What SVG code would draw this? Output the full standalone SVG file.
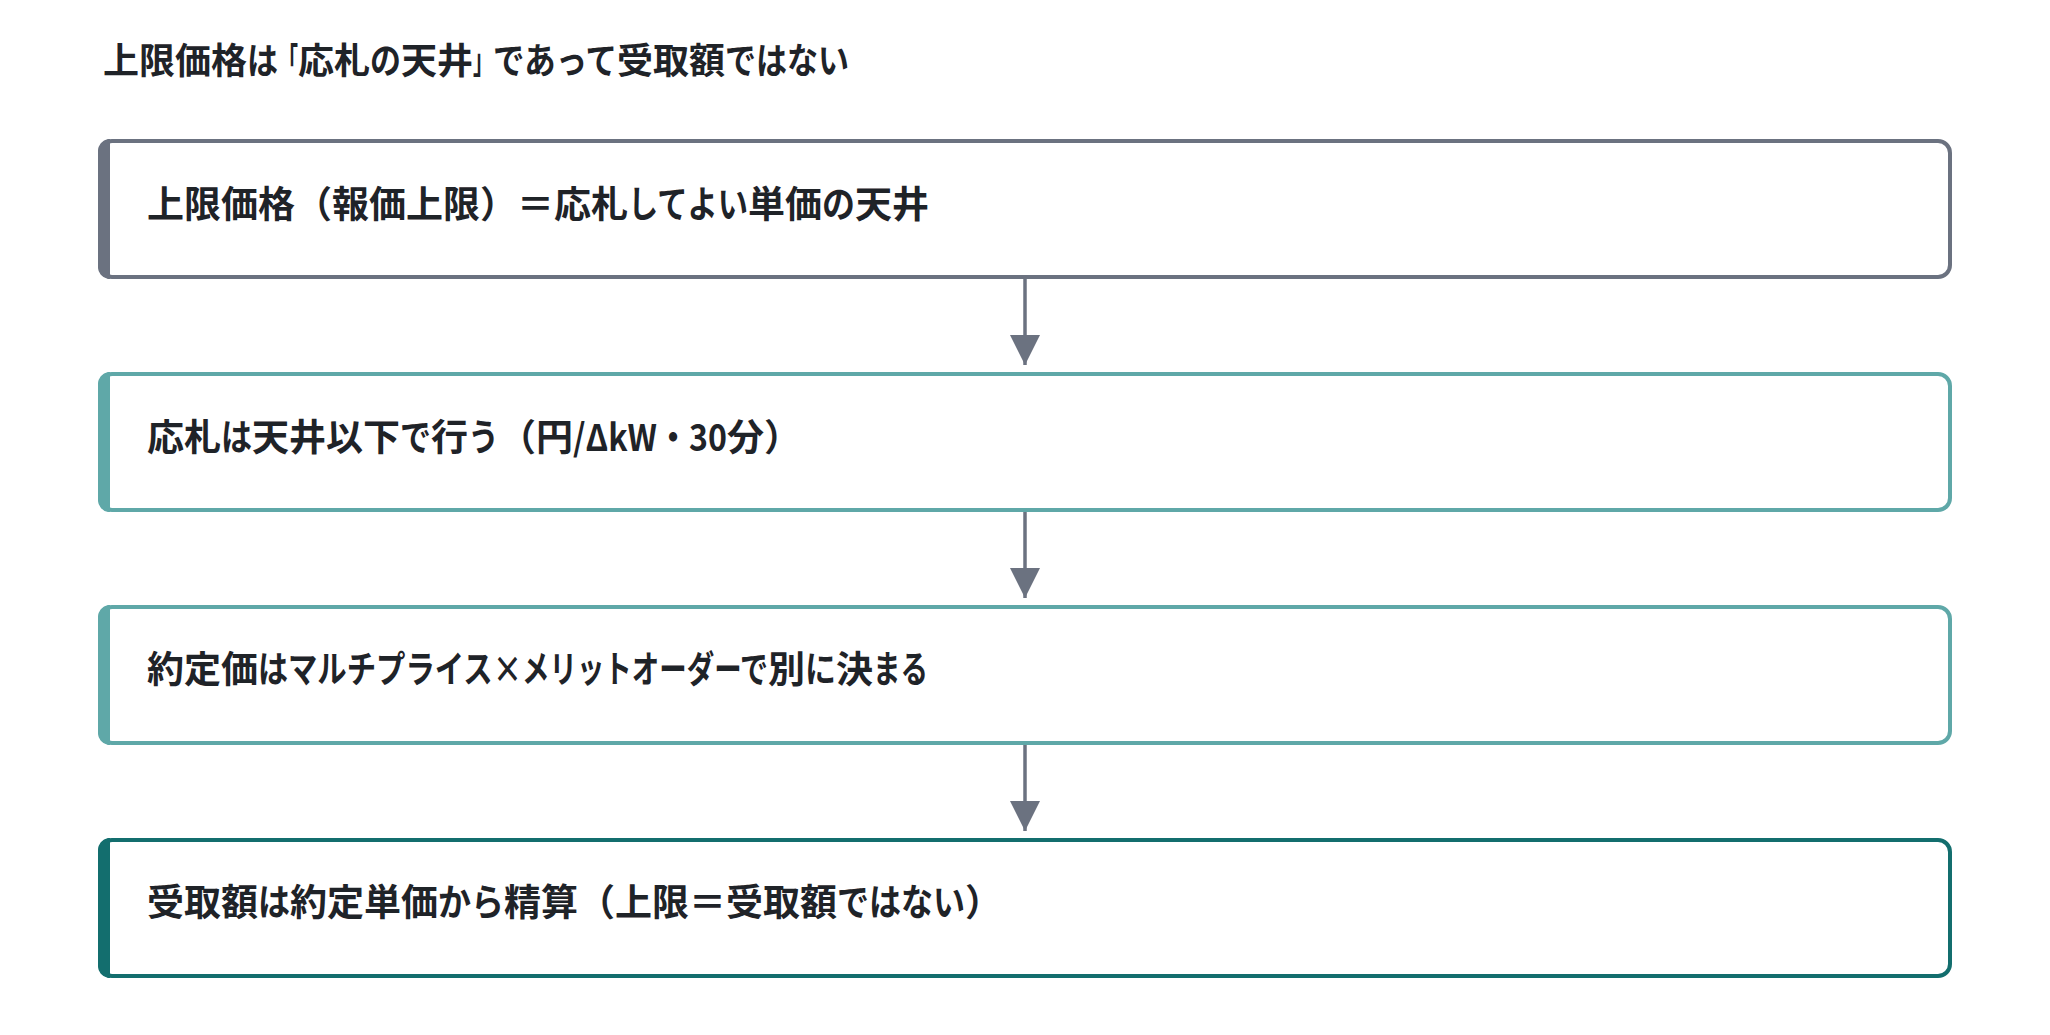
<svg xmlns="http://www.w3.org/2000/svg" width="2050" height="1035" viewBox="0 0 2050 1035">
<defs>
<style>
text{font-family:"Noto Sans CJK JP","Noto Sans",sans-serif;font-weight:700;fill:#1f2328}
.title{font-size:36px}
.lbl{font-size:37px}
.box{fill:#fff;stroke-width:4}
.conn{stroke:#6b7280;stroke-width:3.5;fill:none}
</style>
<marker id="ah" viewBox="0 0 30 30" refX="30" refY="15" markerWidth="30" markerHeight="30" markerUnits="userSpaceOnUse" orient="auto">
<path d="M0,0 L30,15 L0,30 Z" fill="#6b7280"/>
</marker>
</defs>
<rect width="2050" height="1035" fill="#fff"/>
<text class="title" x="103" y="74">上限価格<tspan textLength="31" lengthAdjust="spacingAndGlyphs">は</tspan><tspan textLength="20" lengthAdjust="spacingAndGlyphs">「</tspan>応札<tspan textLength="31" lengthAdjust="spacingAndGlyphs">の</tspan>天井<tspan textLength="20" lengthAdjust="spacingAndGlyphs">」</tspan><tspan textLength="124" lengthAdjust="spacingAndGlyphs">であって</tspan>受取額<tspan textLength="124" lengthAdjust="spacingAndGlyphs">ではない</tspan></text>
<g id="connectors">
<line class="conn" x1="1025" y1="278" x2="1025" y2="365" marker-end="url(#ah)"/>
<line class="conn" x1="1025" y1="511" x2="1025" y2="598" marker-end="url(#ah)"/>
<line class="conn" x1="1025" y1="744" x2="1025" y2="831" marker-end="url(#ah)"/>
</g>
<g id="node1">
<rect class="box" x="100" y="141" width="1850" height="136" rx="12" stroke="#6b7280"/>
<path d="M110,139 H108 A12,12 0 0 0 98,151 V267 A12,12 0 0 0 108,279 H110 Z" fill="#6b7280"/>
<text class="lbl" x="147" y="218">上限価格（報価上限）＝応札<tspan textLength="120" lengthAdjust="spacingAndGlyphs">してよい</tspan>単価<tspan textLength="33" lengthAdjust="spacingAndGlyphs">の</tspan>天井</text>
</g>
<g id="node2">
<rect class="box" x="100" y="374" width="1850" height="136" rx="12" stroke="#5fa8a8"/>
<path d="M110,372 H108 A12,12 0 0 0 98,384 V500 A12,12 0 0 0 108,512 H110 Z" fill="#5fa8a8"/>
<text class="lbl" x="147" y="451">応札<tspan textLength="31" lengthAdjust="spacingAndGlyphs">は</tspan>天井以下<tspan textLength="31" lengthAdjust="spacingAndGlyphs">で</tspan>行<tspan textLength="31" lengthAdjust="spacingAndGlyphs">う</tspan>（円<tspan textLength="154" lengthAdjust="spacingAndGlyphs">/ΔkW・30</tspan>分）</text>
</g>
<g id="node3">
<rect class="box" x="100" y="607" width="1850" height="136" rx="12" stroke="#5fa8a8"/>
<path d="M110,605 H108 A12,12 0 0 0 98,617 V733 A12,12 0 0 0 108,745 H110 Z" fill="#5fa8a8"/>
<text class="lbl" x="147" y="683">約定価<tspan textLength="30" lengthAdjust="spacingAndGlyphs">は</tspan><tspan textLength="234" lengthAdjust="spacingAndGlyphs">マルチプライス×</tspan><tspan textLength="218" lengthAdjust="spacingAndGlyphs">メリットオーダー</tspan><tspan textLength="28" lengthAdjust="spacingAndGlyphs">で</tspan>別<tspan textLength="31" lengthAdjust="spacingAndGlyphs">に</tspan>決<tspan textLength="55" lengthAdjust="spacingAndGlyphs">まる</tspan></text>
</g>
<g id="node4">
<rect class="box" x="100" y="840" width="1850" height="136" rx="12" stroke="#136e6e"/>
<path d="M110,838 H108 A12,12 0 0 0 98,850 V966 A12,12 0 0 0 108,978 H110 Z" fill="#136e6e"/>
<text class="lbl" x="147" y="916">受取額<tspan textLength="32" lengthAdjust="spacingAndGlyphs">は</tspan>約定単価<tspan textLength="66" lengthAdjust="spacingAndGlyphs">から</tspan>精算（上限＝受取額<tspan textLength="128" lengthAdjust="spacingAndGlyphs">ではない</tspan>）</text>
</g>
</svg>
